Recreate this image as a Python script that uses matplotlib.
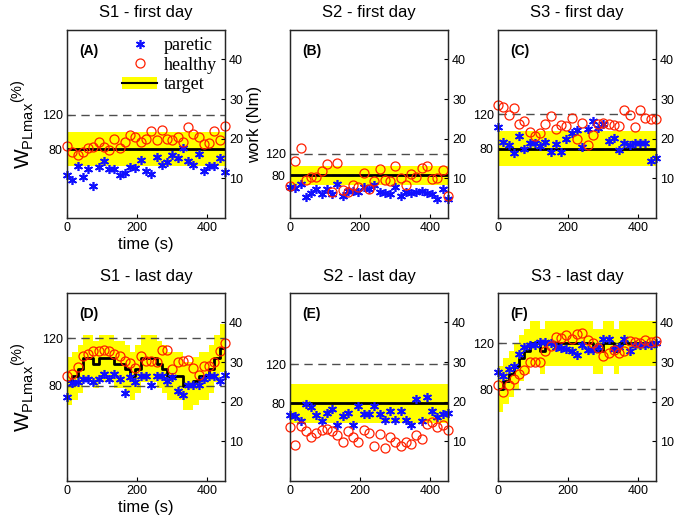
import numpy as np
import matplotlib
matplotlib.use('Agg')
import matplotlib.pyplot as plt
from matplotlib.lines import Line2D
from matplotlib.patches import Patch

plt.rcParams['font.family'] = ['Liberation Sans', 'DejaVu Sans']
plt.rcParams['mathtext.fontset'] = 'custom'
plt.rcParams['mathtext.rm'] = 'Liberation Sans'

time = list(range(0, 451, 15))  # one sample every 15 s

titles = ['S1 - first day', 'S2 - first day', 'S3 - first day',
          'S1 - last day', 'S2 - last day', 'S3 - last day']
letters = ['(A)', '(B)', '(C)', '(D)', '(E)', '(F)']

# % of PLmax
paretic_A = [50, 44, 61, 48, 57, 37, 59, 66, 57, 57, 50, 52, 59, 58, 68, 55,
             51, 71, 62, 65, 73, 70, 82, 66, 62, 74, 55, 60, 60, 70, 54]
healthy_A = [84, 77, 73, 77, 81, 83, 88, 83, 79, 92, 81, 88, 97, 94, 89, 92,
             101, 91, 103, 92, 91, 94, 89, 106, 98, 94, 86, 87, 101, 91, 107]
paretic_B = [57, 56, 64, 40, 46, 54, 45, 54, 45, 64, 42, 50, 50, 48, 57, 54,
             61, 48, 46, 45, 57, 42, 48, 46, 48, 50, 46, 45, 36, 54, 36]
healthy_B = [59, 107, 130, 71, 77, 76, 87, 101, 49, 103, 52, 49, 61, 57, 84, 54,
             69, 91, 71, 70, 98, 74, 61, 83, 76, 94, 97, 72, 74, 89, 41]
paretic_C = [105, 88, 84, 75, 95, 80, 86, 86, 83, 88, 76, 85, 76, 91, 98, 101,
             82, 103, 112, 104, 108, 89, 92, 79, 86, 84, 87, 87, 86, 66, 69]
healthy_C = [130, 128, 119, 127, 109, 112, 99, 95, 98, 109, 118, 103, 107, 106, 115, 91,
             110, 84, 96, 109, 110, 109, 107, 106, 125, 119, 105, 125, 115, 114, 114]
paretic_D = [71, 82, 83, 86, 86, 83, 86, 90, 86, 90, 86, 74, 87, 83, 88, 88,
             81, 88, 88, 84, 87, 76, 72, 81, 81, 81, 86, 88, 88, 84, 89]
healthy_D = [88, 90, 96, 105, 107, 109, 109, 110, 109, 107, 105, 101, 99, 95, 105, 101,
             101, 100, 110, 110, 94, 100, 101, 102, 95, 89, 97, 97, 100, 109, 116]
paretic_E = [68, 67, 62, 79, 76, 68, 62, 70, 74, 58, 67, 70, 58, 77, 69, 69,
             77, 69, 63, 72, 63, 72, 63, 58, 84, 62, 86, 72, 66, 69, 70]
healthy_E = [55, 37, 56, 51, 45, 49, 52, 53, 51, 47, 40, 51, 45, 40, 52, 49,
             36, 48, 34, 45, 40, 36, 40, 38, 47, 43, 59, 61, 55, 57, 52]
paretic_F = [95, 92, 98, 100, 111, 117, 119, 119, 121, 121, 120, 117, 116, 115, 113, 110,
             119, 114, 114, 117, 124, 124, 115, 117, 124, 113, 119, 119, 119, 119, 120]
healthy_F = [84, 78, 84, 89, 93, 97, 104, 104, 104, 113, 118, 126, 125, 127, 124, 128,
             129, 123, 120, 116, 109, 112, 114, 112, 113, 122, 121, 120, 123, 121, 122]

target_flat = [80] * 31
target_D = [84, 88, 94, 103, 103, 98, 103, 103, 103, 98, 98, 94, 88, 94, 103, 103,
            103, 98, 94, 88, 88, 88, 80, 80, 84, 88, 88, 94, 103, 112, 112]
target_F = [80, 87, 93, 100, 107, 113, 120, 120, 113, 120, 120, 120, 120, 120, 120, 120,
            120, 120, 113, 113, 120, 120, 113, 120, 120, 120, 120, 120, 120, 120, 120]

paretic = [paretic_A, paretic_B, paretic_C, paretic_D, paretic_E, paretic_F]
healthy = [healthy_A, healthy_B, healthy_C, healthy_D, healthy_E, healthy_F]
targets = [target_flat, target_flat, target_flat, target_D, target_flat, target_F]
band_half = [20, 18, 20, 20, 20, 20]
ymax_pct = [219, 351, 217, 158, 193, 164]   # left axis top (%), differs per subject/day
work_max = 47.4                              # right axis top (Nm)

fig = plt.figure(figsize=(6.85, 5.25), dpi=100)
W, H = 685.0, 525.0
lefts = [67, 290, 498]
bottoms = [218, 481]

ylab = r'$\mathregular{{W_{PLmax}}^{(\%)}}$'

for i in range(6):
    r, c = divmod(i, 3)
    ax = fig.add_axes([lefts[c] / W, 1 - bottoms[r] / H, 158 / W, 188 / H])
    tgt = np.array(targets[i])
    ax.fill_between(time, tgt - band_half[i], tgt + band_half[i], step='post',
                    color='#ffff00', lw=0, zorder=1)
    for lvl in [80, 120]:
        ax.axhline(lvl, color='0.3', lw=1, dashes=(6, 4), zorder=2)
    ax.step(time, tgt, where='post', color='k', lw=2, zorder=3)
    ax.plot(time, paretic[i], ls='none', marker=(6, 2, 0), ms=6.5, mew=1.2,
            color='#1010ff', clip_on=False, zorder=4)
    ax.plot(time, healthy[i], ls='none', marker='o', ms=6.5, mfc='none', mew=0.9,
            mec='#ff2000', clip_on=False, zorder=5)
    ax.set_xlim(0, 450)
    ax.set_ylim(0, ymax_pct[i])
    ax.set_xticks([0, 200, 400])
    ax.set_yticks([80, 120])
    ax.tick_params(direction='in', length=3, labelsize=9, pad=3)
    ax2 = ax.twinx()
    ax2.set_ylim(0, work_max)
    ax2.set_yticks([10, 20, 30, 40])
    ax2.tick_params(direction='in', length=3, labelsize=9, pad=3)
    for a in (ax, ax2):
        for s in a.spines.values():
            s.set_linewidth(0.9)
            s.set_color('0.15')
    ax.set_title(titles[i], fontsize=12, pad=9)
    ax.text(0.075, 0.89, letters[i], transform=ax.transAxes, fontsize=10,
            fontweight='bold', va='center')
    if c == 0:
        ax.set_ylabel(ylab, fontsize=15, labelpad=4)
        ax.set_xlabel('time (s)', fontsize=12, labelpad=2)
    if i == 1:
        ax.set_ylabel('work (Nm)', fontsize=12, labelpad=2)
    if i == 0:
        handles = [Line2D([], [], ls='none', marker=(6, 2, 0), ms=6.5, mew=1.2, color='#1010ff'),
                   Line2D([], [], ls='none', marker='o', ms=6.5, mfc='none', mew=0.9, mec='#ff2000'),
                   (Patch(color='#ffff00', lw=0), Line2D([], [], color='k', lw=1.5))]
        ax.legend(handles, ['paretic', 'healthy', 'target'], loc='upper right',
                  bbox_to_anchor=(1.03, 1.03), frameon=False, handlelength=1.9,
                  handletextpad=0.4, labelspacing=0.15, borderpad=0.2,
                  prop={'family': ['Liberation Serif', 'DejaVu Serif'], 'size': 13})

fig.savefig('out.png', dpi=100)
